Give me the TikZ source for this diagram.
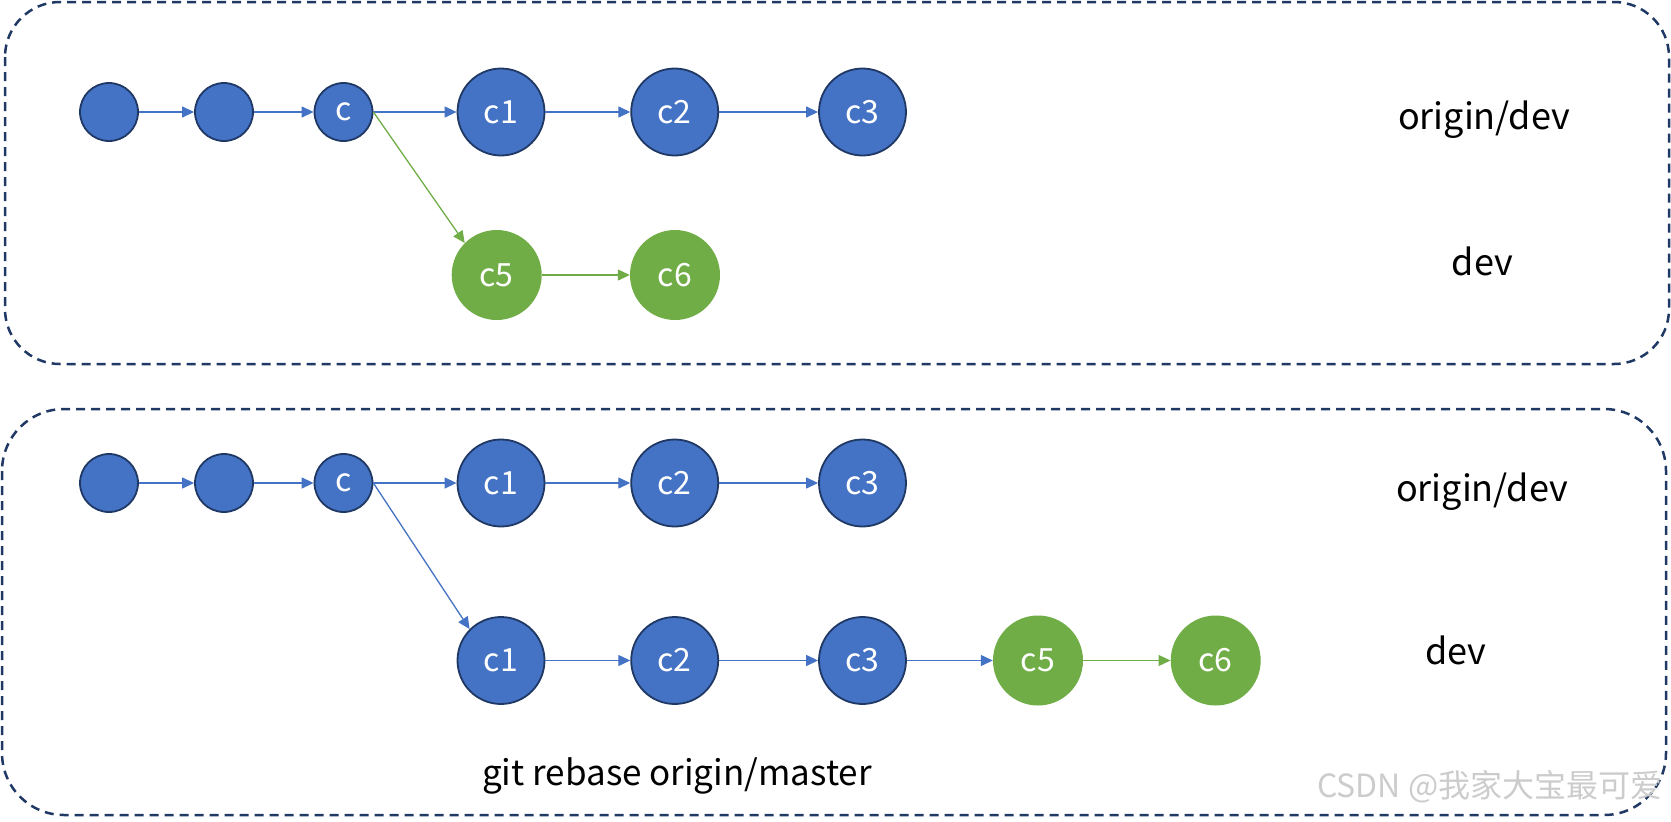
\documentclass[tikz,border=0pt]{standalone}
\usepackage{fontspec}
\setmainfont{Noto Sans CJK SC}
\usetikzlibrary{arrows.meta}
\definecolor{nodeblue}{HTML}{4472C4}
\definecolor{nodegreen}{HTML}{70AD47}
\definecolor{navy}{HTML}{1F3864}
\begin{document}
\begin{tikzpicture}[x=1pt,y=-1pt,
  smallnode/.style={circle,fill=nodeblue,draw=navy,line width=1.8pt,minimum size=58pt,inner sep=0pt,text=white,font=\fontsize{32}{34}\selectfont},
  bignode/.style={smallnode,minimum size=87pt},
  gnode/.style={circle,fill=nodegreen,minimum size=90pt,inner sep=0pt,text=white,font=\fontsize{32}{34}\selectfont},
  barrow/.style={draw=nodeblue,line width=1.3pt,-{Triangle[length=12pt,width=11pt]}},
  garrow/.style={barrow,draw=nodegreen},
  frame/.style={draw=navy,line width=2.5pt,dash pattern=on 9pt off 6pt},
  sidelabel/.style={font=\fontsize{36}{38}\selectfont,anchor=base}]
\useasboundingbox (0,0) rectangle (1671,822);
% frames
\draw[frame,rounded corners=55pt] (5,2) rectangle (1669,364);
\draw[frame,rounded corners=62pt] (2,409) rectangle (1666,815);
% top panel
\node[smallnode] (a1) at (109,112) {};
\node[smallnode] (a2) at (224,112) {};
\node[smallnode] (ac) at (343.5,112) {c};
\node[bignode] (ac1) at (501,112) {c1};
\node[bignode] (ac2) at (674.7,112) {c2};
\node[bignode] (ac3) at (862.5,112) {c3};
\node[gnode] (a5) at (496.7,275) {c5};
\node[gnode] (a6) at (675,275) {c6};
\draw[barrow] (a1) -- (a2);
\draw[barrow] (a2) -- (ac);
\draw[barrow] (ac) -- (ac1);
\draw[barrow] (ac1) -- (ac2);
\draw[barrow] (ac2) -- (ac3);
\draw[garrow] (ac.east) -- (a5.135);
\draw[garrow] (a5) -- (a6);
\node[sidelabel] (ta) at (1484,129) {origin/dev};
\node[sidelabel] (tb) at (1482.5,275) {dev};
% bottom panel
\node[smallnode] (b1) at (109,483) {};
\node[smallnode] (b2) at (224,483) {};
\node[smallnode] (bc) at (343.5,483) {c};
\node[bignode] (bc1) at (501,483) {c1};
\node[bignode] (bc2) at (674.7,483) {c2};
\node[bignode] (bc3) at (862.5,483) {c3};
\node[bignode] (d1) at (501,660.5) {c1};
\node[bignode] (d2) at (674.7,660.5) {c2};
\node[bignode] (d3) at (862.5,660.5) {c3};
\node[gnode] (d5) at (1038,660.5) {c5};
\node[gnode] (d6) at (1215.7,660.5) {c6};
\draw[barrow] (b1) -- (b2);
\draw[barrow] (b2) -- (bc);
\draw[barrow] (bc) -- (bc1);
\draw[barrow] (bc1) -- (bc2);
\draw[barrow] (bc2) -- (bc3);
\draw[barrow] (bc.east) -- (d1.135);
\draw[barrow] (d1) -- (d2);
\draw[barrow] (d2) -- (d3);
\draw[barrow] (d3) -- (d5);
\draw[garrow] (d5) -- (d6);
\node[sidelabel] (tc) at (1482,501) {origin/dev};
\node[sidelabel] (td) at (1456,664) {dev};
\node[sidelabel,font=\fontsize{35}{37}\selectfont] (te) at (677,785) {git rebase origin/master};
\node[font=\fontsize{32}{34}\selectfont,text=black!20,anchor=base east] (wm) at (1666,797) {CSDN @我家大宝最可爱};
\end{tikzpicture}
\end{document}
